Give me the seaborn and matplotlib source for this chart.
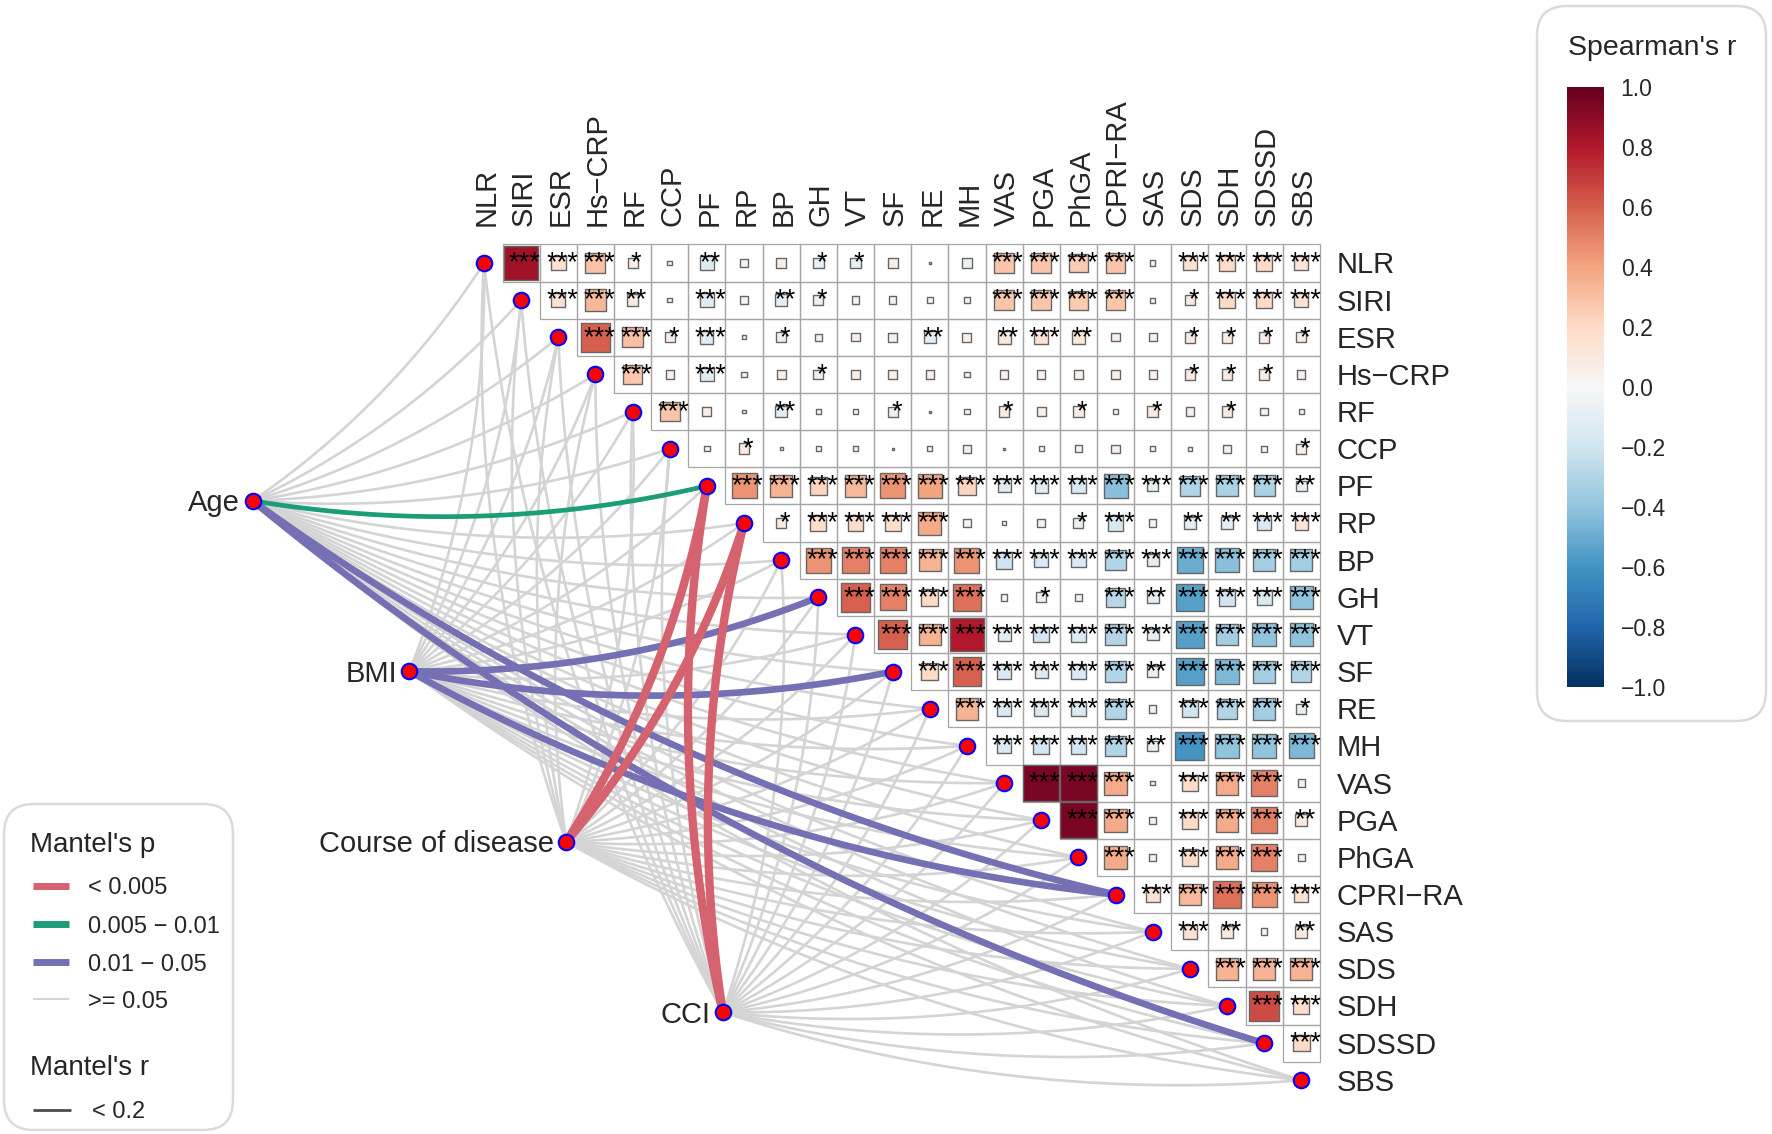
import numpy as np
import pandas as pd
import matplotlib
matplotlib.use("Agg")
import matplotlib.pyplot as plt
import seaborn as sns
from matplotlib.patches import FancyBboxPatch, Rectangle
from matplotlib.colors import Normalize
from matplotlib.cm import ScalarMappable

# ---- data -------------------------------------------------------------
spec_names = ["NLR", "SIRI", "ESR", "Hs−CRP", "RF", "CCP", "PF", "RP", "BP", "GH",
              "VT", "SF", "RE", "MH", "VAS", "PGA", "PhGA", "CPRI−RA", "SAS",
              "SDS", "SDH", "SDSSD", "SBS"]

# Spearman's r, upper triangle, one list per row (columns right of the diagonal)
r_upper = [
    [0.85, 0.16, 0.29, 0.07, 0.015, -0.13, 0.05, 0.07, -0.08, -0.08, 0.07, 0.003, -0.07,
     0.28, 0.28, 0.25, 0.28, 0.02, 0.15, 0.2, 0.2, 0.14],
    [0.15, 0.33, 0.1, 0.015, -0.13, 0.04, -0.1, -0.07, 0.04, 0.04, 0.03, 0.03,
     0.28, 0.28, 0.26, 0.28, 0.02, 0.08, 0.2, 0.2, 0.15],
    [0.6, 0.3, 0.07, -0.12, 0.01, -0.07, 0.04, 0.05, 0.06, -0.1, 0.06,
     0.12, 0.15, 0.12, 0.05, 0.05, 0.08, 0.08, 0.08, 0.07],
    [0.27, 0.05, -0.13, 0.02, 0.06, -0.07, 0.06, 0.06, 0.05, 0.02,
     0.05, 0.05, 0.05, 0.05, 0.05, 0.08, 0.08, 0.08, 0.05],
    [0.28, 0.06, 0.01, -0.1, 0.02, 0.02, -0.07, 0.003, 0.02,
     0.08, 0.06, 0.08, 0.02, 0.08, 0.05, 0.08, 0.04, 0.02],
    [0.02, 0.08, 0.008, 0.02, 0.02, 0.003, 0.02, 0.05,
     0.003, 0.02, 0.04, 0.05, 0.02, 0.01, 0.05, 0.03, 0.07],
    [0.45, 0.35, 0.22, 0.33, 0.45, 0.4, 0.22,
     -0.12, -0.13, -0.16, -0.42, -0.09, -0.3, -0.32, -0.32, -0.08],
    [0.08, 0.18, 0.18, 0.18, 0.38, 0.04,
     0.015, 0.05, -0.07, -0.17, 0.04, -0.1, -0.1, -0.15, 0.13],
    [0.45, 0.5, 0.5, 0.35, 0.45,
     -0.2, -0.15, -0.15, -0.3, -0.1, -0.5, -0.42, -0.35, -0.35],
    [0.6, 0.5, 0.2, 0.55,
     0.03, -0.07, 0.04, -0.28, -0.1, -0.55, -0.2, -0.16, -0.4],
    [0.6, 0.35, 0.8,
     -0.12, -0.18, -0.15, -0.3, -0.1, -0.55, -0.35, -0.4, -0.4],
    [0.2, 0.6,
     -0.15, -0.13, -0.15, -0.3, -0.08, -0.55, -0.45, -0.35, -0.3],
    [0.35,
     -0.15, -0.15, -0.15, -0.3, 0.04, -0.2, -0.3, -0.35, -0.07],
    [-0.15, -0.18, -0.18, -0.3, -0.08, -0.6, -0.4, -0.4, -0.45],
    [0.95, 0.95, 0.38, 0.015, 0.2, 0.38, 0.5, 0.04],
    [0.95, 0.38, 0.04, 0.2, 0.38, 0.5, 0.1],
    [0.38, 0.04, 0.2, 0.38, 0.5, 0.04],
    [0.15, 0.33, 0.55, 0.45, 0.15],
    [0.15, 0.1, 0.03, 0.1],
    [0.35, 0.35, 0.35],
    [0.65, 0.18],
    [0.2],
]

T3 = "***"
stars_upper = [
    [T3, T3, T3, "*", "", "**", "", "", "*", "*", "", "", "", T3, T3, T3, T3, "", T3, T3, T3, T3],
    [T3, T3, "**", "", T3, "", "**", "*", "", "", "", "", T3, T3, T3, T3, "", "*", T3, T3, T3],
    [T3, T3, "*", T3, "", "*", "", "", "", "**", "", "**", T3, "**", "", "", "*", "*", "*", "*"],
    [T3, "", T3, "", "", "*", "", "", "", "", "", "", "", "", "", "*", "*", "*", ""],
    [T3, "", "", "**", "", "", "*", "", "", "*", "", "*", "", "*", "", "*", "", ""],
    ["", "*", "", "", "", "", "", "", "", "", "", "", "", "", "", "", "*"],
    [T3] * 15 + ["**"],
    ["*", T3, T3, T3, T3, "", "", "", "*", T3, "", "**", "**", T3, T3],
    [T3] * 14,
    [T3, T3, T3, T3, "", "*", "", T3, "**", T3, T3, T3, T3],
    [T3] * 12,
    [T3, T3, T3, T3, T3, T3, "**", T3, T3, T3, T3],
    [T3, T3, T3, T3, T3, "", T3, T3, T3, "*"],
    [T3, T3, T3, T3, "**", T3, T3, T3, T3],
    [T3, T3, T3, "", T3, T3, T3, ""],
    [T3, T3, "", T3, T3, T3, "**"],
    [T3, "", T3, T3, T3, ""],
    [T3] * 5,
    [T3, "**", "", "**"],
    [T3] * 3,
    [T3] * 2,
    [T3],
]

# Mantel test links (all other env/spec pairs are >= 0.05)
env_names = ["Age", "BMI", "Course of disease", "CCI"]
link_env = ["Age", "Age", "Age", "BMI", "BMI", "BMI",
            "Course of disease", "Course of disease", "CCI", "CCI"]
link_spec = ["PF", "CPRI−RA", "SDSSD", "GH", "SF", "CPRI−RA", "PF", "RP", "PF", "RP"]
link_p = ["0.005 - 0.01", "0.01 - 0.05", "0.01 - 0.05", "0.01 - 0.05", "0.01 - 0.05",
          "0.01 - 0.05", "< 0.005", "< 0.005", "< 0.005", "< 0.005"]

p_levels = ["< 0.005", "0.005 - 0.01", "0.01 - 0.05", ">= 0.05"]
p_colors = {"< 0.005": "#D4626F", "0.005 - 0.01": "#1B9E77",
            "0.01 - 0.05": "#7570B3", ">= 0.05": "#D4D4D4"}
p_widths = {"< 0.005": 6.0, "0.005 - 0.01": 3.4, "0.01 - 0.05": 4.8, ">= 0.05": 1.9}

cbar_ticks = [-1.0, -0.8, -0.6, -0.4, -0.2, 0.0, 0.2, 0.4, 0.6, 0.8, 1.0]

# ---- long table of cells ----------------------------------------------
rows = []
for i, (rv, sv) in enumerate(zip(r_upper, stars_upper)):
    for k, (r, s) in enumerate(zip(rv, sv)):
        rows.append({"row": i, "col": i + 1 + k, "r": r, "absr": abs(r), "stars": s})
cells = pd.DataFrame(rows)

# ---- figure -----------------------------------------------------------
sns.set_theme(style="white")
plt.rcParams["font.family"] = ["Liberation Sans", "DejaVu Sans"]

W, H = 1772, 1134
CELL = 37.15          # pixels per matrix cell
X0, Y0 = 484, 263     # pixel centre of the NLR/NLR position

fig = plt.figure(figsize=(W / 100, H / 100), dpi=100)
fig.patch.set_facecolor("white")
ax = fig.add_axes([0, 0, 1, 1])


def d(px, py):
    return (px - X0) / CELL, (py - Y0) / CELL


spec_pos = {name: (i, i) for i, name in enumerate(spec_names)}
env_pos = {name: (-6.23 + 4.22 * k, 6.40 + 4.59 * k) for k, name in enumerate(env_names)}


def curve(p0, p1, k=0.1, m=80):
    (x0, y0), (x1, y1) = p0, p1
    dx, dy = x1 - x0, y1 - y0
    if dx < 1:          # links that run up/left bend the other way
        k = -k
    cx, cy = (x0 + x1) / 2 - k * dy, (y0 + y1) / 2 + k * dx
    t = np.linspace(0, 1, m)
    x = (1 - t) ** 2 * x0 + 2 * t * (1 - t) * cx + t ** 2 * x1
    y = (1 - t) ** 2 * y0 + 2 * t * (1 - t) * cy + t ** 2 * y1
    return x, y


# grey links first
sig = {(e, s): p for e, s, p in zip(link_env, link_spec, link_p)}
for e in env_names:
    for s in spec_names:
        if (e, s) in sig:
            continue
        x, y = curve(env_pos[e], spec_pos[s])
        ax.plot(x, y, color=p_colors[">= 0.05"], lw=p_widths[">= 0.05"], zorder=1,
                solid_capstyle="round")

# significant links on top (purple, green, red)
for lev in ["0.01 - 0.05", "0.005 - 0.01", "< 0.005"]:
    for e, s, p in zip(link_env, link_spec, link_p):
        if p != lev:
            continue
        x, y = curve(env_pos[e], spec_pos[s])
        ax.plot(x, y, color=p_colors[p], lw=p_widths[p], zorder=2,
                solid_capstyle="round")

# grid of the upper triangle
for _, c in cells.iterrows():
    ax.add_patch(Rectangle((c["col"] - 0.5, c["row"] - 0.5), 1, 1, fill=False,
                           ec="#A6A6A6", lw=0.9, zorder=2.5))

# squares: area proportional to |r|
cell_pt = CELL * 72 / 100
sns.scatterplot(data=cells, x="col", y="row", hue="r", palette="RdBu_r",
                hue_norm=(-1, 1), size="absr", sizes=(0, cell_pt ** 2),
                size_norm=(0, 1), marker="s", edgecolor="#666666", linewidth=1.0,
                legend=False, ax=ax, zorder=3)

for _, c in cells.iterrows():
    if c["stars"]:
        ax.text(c["col"] + 0.1, c["row"] + 0.2, c["stars"], ha="center",
                va="baseline", fontsize=19.5, color="black", zorder=6)

# nodes
node_x = [spec_pos[s][0] for s in spec_names] + [env_pos[e][0] for e in env_names]
node_y = [spec_pos[s][1] for s in spec_names] + [env_pos[e][1] for e in env_names]
sns.scatterplot(x=node_x, y=node_y, s=125, color="red", edgecolor="blue",
                linewidth=1.5, legend=False, ax=ax, zorder=5)

# labels
for j, name in enumerate(spec_names):
    ax.text(j + 0.28, -1.0, name, rotation=90, rotation_mode="anchor",
            ha="left", va="baseline", fontsize=21)
    ax.text(22.96, j + 0.28, name, ha="left", va="baseline", fontsize=21)
for e in env_names:
    ex, ey = env_pos[e]
    ax.text(ex - 0.33, ey + 0.28, e, ha="right", va="baseline", fontsize=21)

# legend box (bottom left)
bx0, by0 = d(4, 804)
bx1, by1 = d(233, 1130)
ax.add_patch(FancyBboxPatch((bx0, by0), bx1 - bx0, by1 - by0,
                            boxstyle="round,pad=0,rounding_size=0.8",
                            fc="white", ec="#DADADA", lw=1.8, zorder=0.5))
tx, ty = d(30, 852)
ax.text(tx, ty, "Mantel's p", ha="left", va="baseline", fontsize=20)
key_y = [886, 924, 962, 999]
for lev, ky in zip(p_levels, key_y):
    k0, kyd = d(33, ky)
    k1, _ = d(69, ky)
    lw = 5.0 if lev != ">= 0.05" else 1.5
    ax.plot([k0, k1], [kyd, kyd], color=p_colors[lev], lw=lw, solid_capstyle="butt")
    lx, ly = d(88, ky + 8.5)
    ax.text(lx, ly, lev.replace(" - ", " − "), ha="left", va="baseline", fontsize=17)
tx, ty = d(30, 1075)
ax.text(tx, ty, "Mantel's r", ha="left", va="baseline", fontsize=20)
k0, kyd = d(33, 1110)
k1, _ = d(71, 1110)
ax.plot([k0, k1], [kyd, kyd], color="#4D4D4D", lw=2.0, solid_capstyle="butt")
lx, ly = d(92, 1118.5)
ax.text(lx, ly, "< 0.2", ha="left", va="baseline", fontsize=17)

# colour bar box (top right)
bx0, by0 = d(1537, 6)
bx1, by1 = d(1766, 721)
ax.add_patch(FancyBboxPatch((bx0, by0), bx1 - bx0, by1 - by0,
                            boxstyle="round,pad=0,rounding_size=0.8",
                            fc="white", ec="#DADADA", lw=1.8, zorder=0.5))

ax.set_xlim(-X0 / CELL, (W - X0) / CELL)
ax.set_ylim((H - Y0) / CELL, -Y0 / CELL)
ax.axis("off")

cax = fig.add_axes([1567 / W, 1 - 687 / H, 37 / W, 600 / H])
cb = fig.colorbar(ScalarMappable(norm=Normalize(-1, 1), cmap="RdBu_r"), cax=cax,
                  ticks=cbar_ticks)
cb.outline.set_visible(False)
cb.minorticks_off()
cb.set_ticklabels([f"{v:.1f}".replace("-", "−") for v in cbar_ticks])
cax.tick_params(axis="y", which="major", direction="in", length=5, width=1,
                color="white", left=True, right=True, labelleft=False,
                labelright=True, labelsize=16.5, pad=12)
fig.text(1568 / W, 1 - 55 / H, "Spearman's r", ha="left", va="baseline", fontsize=20.5)

fig.savefig("out.png", dpi=100)
